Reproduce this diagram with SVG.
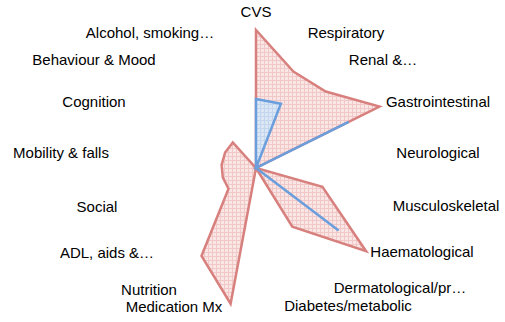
<svg xmlns="http://www.w3.org/2000/svg" width="505" height="322" viewBox="0 0 505 322">
<defs>
<pattern id="pgrid" width="4" height="4" patternUnits="userSpaceOnUse">
<rect width="4" height="4" fill="#F9E6E5"/>
<path d="M0 0.5H4M0.5 0V4" stroke="#EFC8C7" stroke-width="1"/>
</pattern>
<pattern id="bgrid" width="4" height="4" patternUnits="userSpaceOnUse">
<rect width="4" height="4" fill="#DCE7F5"/>
<path d="M0 0.5H4M0.5 0V4" stroke="#C4D6EE" stroke-width="1"/>
</pattern>
</defs>
<style>
text{font-family:"Liberation Sans",Arial,sans-serif;font-size:15px;fill:#000;text-anchor:middle}
.red{fill:url(#pgrid);stroke:#D7807E;stroke-width:2.5;stroke-linejoin:miter;stroke-miterlimit:4}
.blue{fill:url(#bgrid);stroke:#6A9EDC;stroke-width:2.5;stroke-linejoin:miter;stroke-miterlimit:4}
</style>
<rect width="505" height="322" fill="#fff"/>
<g id="series">
<polygon id="series1" class="red" points="256,30 293.4,71.5 325.7,91.5 379.5,106.5 256,168 322.4,186.9 366.1,251.2 292.3,226.7 256,168 230.6,303.7 201.5,256 228.5,188.8 222.8,177.4 221.6,164.8 225.1,152.6 232.8,142.5 256,168"/>
<polygon id="series2" class="blue" points="256,99 280.9,103.7 256,168 348.7,121.9 256,168 338.6,230.4 256,168"/>
</g>
<g id="labels">
<text x="256" y="17">CVS</text>
<text x="346" y="38">Respiratory</text>
<text x="383" y="65">Renal &amp;…</text>
<text x="438" y="107">Gastrointestinal</text>
<text x="438" y="158">Neurological</text>
<text x="446" y="211">Musculoskeletal</text>
<text x="422" y="257">Haematological</text>
<text x="400" y="293">Dermatological/pr…</text>
<text x="348" y="311">Diabetes/metabolic</text>
<text x="174" y="312">Medication Mx</text>
<text x="149" y="295">Nutrition</text>
<text x="107" y="258">ADL, aids &amp;…</text>
<text x="97" y="212">Social</text>
<text x="61" y="158">Mobility &amp; falls</text>
<text x="94" y="107">Cognition</text>
<text x="94" y="65">Behaviour &amp; Mood</text>
<text x="150" y="38">Alcohol, smoking…</text>
</g>
</svg>
